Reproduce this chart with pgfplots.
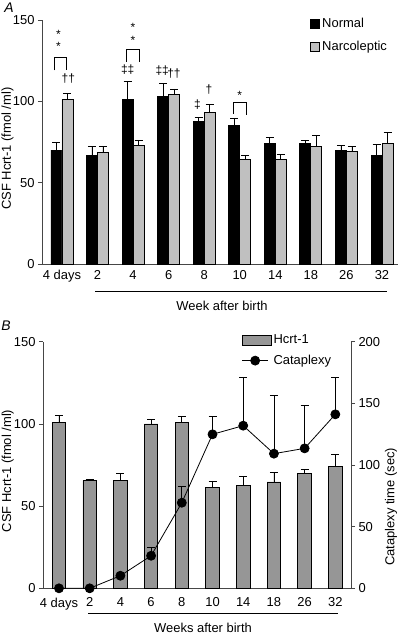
\documentclass[border=0pt]{standalone}
\usepackage{pgfplots}
\pgfplotsset{compat=1.18}
\usepackage{fontspec}
\setmainfont{Liberation Sans}
\definecolor{narc}{RGB}{192,192,192}
\definecolor{hcrt}{RGB}{150,150,150}
\definecolor{axc}{RGB}{70,70,70}
\newcommand{\fs}{\fontsize{13}{15}\selectfont}
\pgfplotsset{
  mystyle/.style={
    scale only axis,
    axis line style={-,axc,line width=0.8bp},
    tick style={axc,line width=0.8bp},
    tick align=outside,
    major tick length=4bp,
    /pgf/number format/assume math mode=true,
    ticklabel style={font=\fs},
    label style={font=\fs},
    legend style={font=\fs},
  },
  errstyle/.style={
    error bars/.cd, y dir=plus, y explicit,
    error bar style={black,line width=0.8bp},
    error mark options={rotate=90,mark size=4bp,black,line width=0.8bp},
  },
  sqleg/.style={legend image code/.code={\draw[##1,line width=0.8bp] (0bp,-4.5bp) rectangle (9bp,4.5bp);}},
  rectleg/.style={legend image code/.code={\draw[fill=hcrt,draw=black,line width=0.8bp] (0bp,-5bp) rectangle (29bp,5bp);}},
  catleg/.style={legend image code/.code={\draw[##1,mark repeat=2,mark phase=2] plot coordinates {(0bp,0bp) (13bp,0bp) (26bp,0bp)};}},
}
\begin{document}
\begin{tikzpicture}
\useasboundingbox (0,0) rectangle (400bp,-635bp);
% ---------------- Panel A ----------------
\begin{axis}[mystyle,
  at={(42bp,-264bp)}, anchor=south west,
  width=356bp, height=244bp,
  xmin=-0.56, xmax=9.45, ymin=0, ymax=150,
  axis x line*=bottom, axis y line*=left,
  ytick={0,50,100,150},
  xtick={0,...,9},
  xticklabels={4 days,2,4,6,8,10,14,18,26,32},
  x tick style={draw=none},
  xticklabel style={yshift=1bp},
  ybar=0pt, bar width=11bp,
  ylabel={CSF Hcrt-1 (fmol /ml)},
  ylabel style={at={(axis description cs:-0.097,0.473)},anchor=center},
  clip=false,
  legend style={at={(axis description cs:0.745,1.023)},anchor=north west,
    draw=none,fill=none,row sep=8bp,cells={anchor=west}},
  sqleg,
]
\addplot[fill=black,draw=black,line width=0.8bp,errstyle] coordinates {
 (0,70) +- (0,4.5)
 (1,66.5) +- (0,6)
 (2,101) +- (0,11)
 (3,103) +- (0,8)
 (4,87.5) +- (0,2.7)
 (5,85.4) +- (0,4)
 (6,74) +- (0,3.8)
 (7,74) +- (0,2)
 (8,70) +- (0,3)
 (9,67) +- (0,6.6)
};
\addlegendentry{Normal}
\addplot[fill=narc,draw=black,line width=0.8bp,errstyle] coordinates {
 (0,101.2) +- (0,3.8)
 (1,68.6) +- (0,4)
 (2,73) +- (0,3)
 (3,104) +- (0,3.6)
 (4,93) +- (0,5)
 (5,64) +- (0,3)
 (6,64) +- (0,3.6)
 (7,72) +- (0,7)
 (8,69) +- (0,3)
 (9,74) +- (0,7)
};
\addlegendentry{Narcoleptic}
% significance marks
\begin{scope}[every node/.style={font=\fontsize{12}{13}\selectfont,inner sep=0pt}]
\node at (axis cs:-0.1,141) {*};
\node at (axis cs:-0.1,133.6) {*};
\draw[line width=0.8bp] (axis cs:-0.22,119) |- (axis cs:0.14,127) -- (axis cs:0.14,119);
\node at (axis cs:0.18,113.9) {††};
\node at (axis cs:2,145.3) {*};
\node at (axis cs:2,137.7) {*};
\draw[line width=0.8bp] (axis cs:1.8,124.4) |- (axis cs:2.17,132) -- (axis cs:2.17,124.4);
\node at (axis cs:1.85,119.5) {‡‡};
\node at (axis cs:2.82,119.2) {‡‡};
\node at (axis cs:3.15,117) {††};
\node at (axis cs:3.81,98.3) {‡};
\node at (axis cs:4.135,107) {†};
\node at (axis cs:5,103.5) {*};
\draw[line width=0.8bp] (axis cs:4.82,92.5) |- (axis cs:5.18,99.1) -- (axis cs:5.18,91.5);
\end{scope}
\end{axis}
\draw[line width=1bp] (95bp,-291bp) -- (386.7bp,-291bp);
\node[font=\fs] at (222bp,-306bp) {Week after birth};
\node[font=\fontsize{14}{15}\selectfont\itshape] at (9bp,-8bp) {A};
% ---------------- Panel B ----------------
\begin{axis}[mystyle,
  at={(43bp,-588.3bp)}, anchor=south west,
  width=308bp, height=246.6bp,
  xmin=-0.52, xmax=9.51, ymin=0, ymax=150,
  axis x line*=bottom, axis y line*=left,
  ytick={0,50,100,150},
  xtick={0,...,9},
  xticklabels={4 days,2,4,6,8,10,14,18,26,32},
  x tick style={draw=none},
  xticklabel style={yshift=-2bp},
  ybar, bar width=13.5bp,
  ylabel={CSF Hcrt-1 (fmol /ml)},
  ylabel style={at={(axis description cs:-0.114,0.476)},anchor=center},
]
\addplot[fill=hcrt,draw=black,line width=0.8bp,errstyle] coordinates {
 (0,101) +- (0,4)
 (1,65.5) +- (0,0.7)
 (2,65.5) +- (0,4.5)
 (3,100) +- (0,2.8)
 (4,101) +- (0,3.6)
 (5,61.2) +- (0,4.1)
 (6,62.8) +- (0,5)
 (7,64.7) +- (0,6)
 (8,70) +- (0,2.4)
 (9,74) +- (0,7.5)
};
\end{axis}
\begin{axis}[mystyle,
  at={(43bp,-588.3bp)}, anchor=south west,
  width=308bp, height=246.6bp,
  xmin=-0.52, xmax=9.51, ymin=0, ymax=200,
  axis x line=none, axis y line*=right,
  ytick={0,50,100,150,200},
  ylabel={Cataplexy time (sec)},
  ylabel style={at={(axis description cs:1.13,0.33)},anchor=center},
  clip=false,
  legend style={at={(axis description cs:0.635,1.045)},anchor=north west,
    draw=none,fill=none,row sep=6bp,cells={anchor=west}},
]
\addlegendimage{rectleg}
\addlegendentry{Hcrt-1}
\addplot[black,line width=0.8bp,mark=*,mark size=4.5bp,catleg,errstyle]
 coordinates {
 (0,0) +- (0,0)
 (1,0) +- (0,0)
 (2,10.2) +- (0,0)
 (3,26.4) +- (0,6.6)
 (4,69.4) +- (0,13)
 (5,124.9) +- (0,14.8)
 (6,131.9) +- (0,38.9)
 (7,109.2) +- (0,47)
 (8,113.5) +- (0,34.5)
 (9,141.1) +- (0,29.7)
};
\addlegendentry{Cataplexy}
\end{axis}
\draw[line width=1bp] (88bp,-613.3bp) -- (338bp,-613.3bp);
\node[font=\fs] at (203bp,-628bp) {Weeks after birth};
\node[font=\fontsize{14}{15}\selectfont\itshape] at (6bp,-326bp) {B};
\end{tikzpicture}
\end{document}
